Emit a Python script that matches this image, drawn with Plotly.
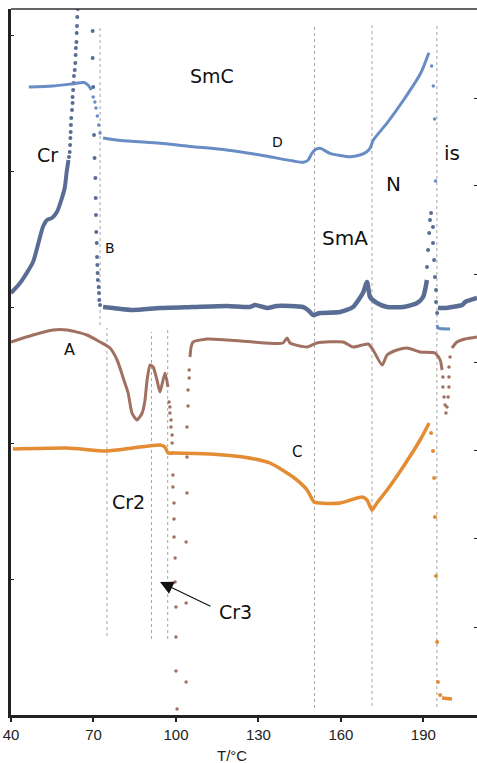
import plotly.graph_objects as go

# ---- data (T in °C, signal in arbitrary units) ----
# Curve D (light blue)
D1_T = [46.5, 55.0, 62.0, 66.6, 68.0, 69.3]
D1_y = [628, 629, 631, 632.5, 630, 625]
D_dots1_T = [69.9, 70.5, 70.9, 71.4, 71.9, 72.4]
D_dots1_y = [618, 613, 607, 599, 590, 582]
D2_T = [73.5, 80.0, 94.2, 106.3, 118.4, 130.6, 142.7, 146.3, 148.1, 149.3, 150.5, 152.4,
        156.0, 163.3, 166.9, 169.4, 170.6, 171.8, 176.7, 182.8, 189.0, 192.0]
D2_y = [577, 574.5, 571.7, 568.3, 565, 560, 554, 552.7, 555, 561, 565, 566.7,
        561.7, 558.3, 560, 563.3, 566.7, 575, 591.7, 615, 641.7, 662.3]
D_dots2_T = [193.0, 193.6, 194.1, 194.4]
D_dots2_y = [649, 629, 596, 534]
D3_T = [195.0, 195.3, 199.7]
D3_y = [390, 387, 386]

# Curve B (slate blue)
B1_T = [40.0, 43.3, 48.0, 51.6, 53.1, 54.9, 56.7, 58.3, 59.6, 60.2, 60.9]
B1_y = [422, 432, 453, 488, 495, 497, 503, 515, 528, 542, 555]
B_dots1_T = [61.1, 61.35, 61.5, 61.6, 61.7, 61.8, 61.9, 62.2, 62.4, 62.4, 62.6, 62.8, 62.9,
             63.2, 63.4, 63.5, 63.6, 63.8, 63.9, 64.0, 64.1, 64.3,
             69.7, 69.7, 69.9, 70.2, 70.4, 70.7, 70.8, 70.9, 71.0, 71.2, 71.3, 71.4, 71.5,
             71.6, 71.9, 72.0, 72.1, 72.4]
B_dots1_y = [558, 563, 570, 577, 583, 590, 597, 605, 612, 618, 625, 632, 639,
             645, 652, 660, 667, 673, 682, 689, 698, 706,
             684, 657, 628, 580, 557, 537, 517, 500, 483, 472, 458, 450, 442,
             435, 428, 422, 415, 410]
B2_T = [73.5, 77.1, 84.4, 94.2, 106.2, 118.6, 126.9, 128.8, 133.1, 136.8, 146.2, 148.0,
        149.9, 152.4, 159.7, 164.4, 168.0, 169.5, 170.6, 173.1, 176.8, 182.6, 187.7, 189.9, 191.3]
B2_y = [408, 407, 405, 407, 408, 409, 408, 410, 407, 409, 408, 405,
        400, 402, 403, 408, 422, 433, 418, 412, 408, 408, 412, 418, 435]
B_dots2_T = [191.3, 191.7, 192.1, 192.4, 192.8, 193.5, 193.5, 193.9, 194.2, 194.6, 194.6, 195.0]
B_dots2_y = [448, 465, 482, 495, 502, 488, 472, 455, 438, 425, 413, 402]
B3_T = [195.3, 197.9, 200.4, 204.1, 205.2, 209.5]
B3_y = [407, 407, 408, 410, 413, 417]

# Curve A (brown)
A1_T = [40.0, 48.0, 55.3, 60.4, 67.6, 72.4, 76.0, 78.6, 80.7, 82.6, 84.0, 85.8, 87.7,
        88.7, 89.5, 90.6, 91.7, 93.1, 94.2, 96.0, 97.1]
A1_y = [373, 380, 385, 385, 380, 373, 367, 355, 338, 322, 302, 295, 302,
        314, 335, 350, 348, 335, 323, 342, 328]
A_dots1_T = [97.5, 97.8, 97.8, 98.2, 98.2, 98.6, 98.6, 98.6, 98.9, 98.9, 99.3, 99.3, 99.3,
             99.7, 99.7, 100.0, 100.0, 100.0, 100.4,
             103.7, 103.7, 103.7, 104.0, 104.0, 104.0, 104.4, 104.4, 104.8, 104.8]
A_dots1_y = [313, 308, 302, 295, 288, 280, 272, 262, 240, 228, 212, 196, 178,
             157, 133, 108, 78, 44, 6,
             33, 112, 173, 222, 258, 288, 309, 325, 337, 345]
A2_T = [105.1, 105.5, 106.2, 111.3, 118.6, 128.0, 138.9, 140.4, 141.5, 147.7, 151.3, 160.8,
        164.4, 169.9, 171.7, 175.0, 176.8, 180.4, 184.1, 188.8, 194.2, 196.1, 196.8]
A2_y = [358, 368, 373, 376, 375, 373, 372, 377, 372, 368, 372, 373,
        368, 371, 365, 350, 360, 365, 367, 363, 362, 355, 345]
A_dots2_T = [197.1, 197.1, 197.5, 197.9, 198.2, 198.6, 199.0, 199.3, 199.3, 199.3, 199.7]
A_dots2_y = [338, 328, 318, 310, 302, 308, 318, 328, 338, 348, 358]
A3_T = [200.4, 202.2, 205.2, 209.5]
A3_y = [367, 373, 376, 378]

# Curve C (orange)
C1_T = [40.7, 60.4, 74.9, 84.4, 94.2, 96.0, 97.1, 98.9, 112.4, 124.4, 134.2, 142.6, 147.7,
        150.2, 152.4, 159.7, 167.7, 169.5, 171.3, 173.1, 176.8, 182.6, 188.8, 192.1]
C1_y = [266, 267, 264, 267, 270, 268, 262, 262, 261, 258, 252, 238, 225,
        213, 212, 212, 218, 215, 205, 212, 225, 248, 275, 292]
C_dots_T = [192.8, 193.5, 193.9, 194.2, 194.6, 195.0, 195.3, 196.1]
C_dots_y = [282, 264, 237, 198, 139, 73, 33, 20]
C2_T = [196.8, 200.4]
C2_y = [17, 16]

# Phase-boundary guide lines: T, y start, y end
VL_T = [72.4, 74.9, 91.1, 97.0, 150.4, 171.3, 194.9]
VL_y0 = [390, 79, 76, 76, 7, 9, 8]
VL_y1 = [688, 387, 383, 387, 690, 691, 691]

# Labels
LBL_text = ["Cr", "SmC", "D", "N", "is", "B", "SmA", "A", "C", "Cr2", "Cr3"]
LBL_T = [53.1, 113.1, 136.8, 179.0, 200.4, 76.0, 161.5, 61.1, 144.0, 82.6, 121.8]
LBL_y = [560, 639, 573, 531, 562, 467, 477, 366, 263, 213, 103]
LBL_size = [19, 19, 14, 20, 20, 14, 20, 16, 15, 19, 19]

ARROW_tip = (94.2, 133)
ARROW_tail = (113.1, 108)

X_TICKS = [40, 70, 100, 130, 160, 190]
YL_TICKS = [0, 136, 272, 408, 544, 680]
YR_TICKS = [88, 177, 265, 353, 441, 530, 617]

# ---- styling ----
COL_D = "rgb(104,140,196)"
COL_B = "rgb(88,108,148)"
COL_A = "rgb(160,112,96)"
COL_C = "rgb(228,140,52)"

fig = go.Figure()

def line(x, y, col, w):
    fig.add_trace(go.Scatter(x=x, y=y, mode="lines", line=dict(color=col, width=w, shape="spline", smoothing=0.6),
                             showlegend=False, hoverinfo="skip"))

def dots(x, y, col, s):
    fig.add_trace(go.Scatter(x=x, y=y, mode="markers", marker=dict(color=col, size=s),
                             showlegend=False, hoverinfo="skip"))

line(B1_T, B1_y, COL_B, 4)
dots(B_dots1_T, B_dots1_y, COL_B, 4)
line(B2_T, B2_y, COL_B, 4.5)
dots(B_dots2_T, B_dots2_y, COL_B, 4)
line(B3_T, B3_y, COL_B, 4.5)

line(D1_T, D1_y, COL_D, 3)
dots(D_dots1_T, D_dots1_y, COL_D, 3.5)
line(D2_T, D2_y, COL_D, 3)
dots(D_dots2_T, D_dots2_y, COL_D, 3.5)
line(D3_T, D3_y, COL_D, 3)

line(A1_T, A1_y, COL_A, 3)
dots(A_dots1_T, A_dots1_y, COL_A, 3.5)
line(A2_T, A2_y, COL_A, 3)
dots(A_dots2_T, A_dots2_y, COL_A, 3.5)
line(A3_T, A3_y, COL_A, 3)

line(C1_T, C1_y, COL_C, 3.5)
dots(C_dots_T, C_dots_y, COL_C, 4)
line(C2_T, C2_y, COL_C, 3.5)

# invisible trace for right axis
fig.add_trace(go.Scatter(x=[None], y=[None], yaxis="y2", showlegend=False))

shapes = []
for t, a, b in zip(VL_T, VL_y0, VL_y1):
    shapes.append(dict(type="line", xref="x", yref="y", x0=t, x1=t, y0=a, y1=b,
                       line=dict(color="rgb(165,165,165)", width=1, dash="dot"), layer="below"))
shapes.append(dict(type="line", xref="paper", yref="paper", x0=0, x1=1, y0=1, y1=1,
                   line=dict(color="#333", width=1.5)))

annotations = []
for t, x, y, s in zip(LBL_text, LBL_T, LBL_y, LBL_size):
    annotations.append(dict(text=t, x=x, y=y, xref="x", yref="y", showarrow=False,
                            font=dict(family="DejaVu Sans", size=s, color="#111")))
annotations.append(dict(text="", x=ARROW_tip[0], y=ARROW_tip[1], ax=ARROW_tail[0], ay=ARROW_tail[1],
                        xref="x", yref="y", axref="x", ayref="y", showarrow=True,
                        arrowhead=2, arrowsize=2.2, arrowwidth=1.2, arrowcolor="#111"))
annotations.append(dict(text="T/°C", x=(232 - 11) / 466, y=-(755 - 715) / 706,
                        xref="paper", yref="paper", showarrow=False,
                        xanchor="center", yanchor="middle",
                        font=dict(family="Liberation Sans", size=15, color="#222")))

fig.update_layout(
    width=477, height=763,
    margin=dict(l=11, r=0, t=9, b=48),
    paper_bgcolor="white", plot_bgcolor="white",
    shapes=shapes, annotations=annotations,
    xaxis=dict(range=[40, 209.5], tickvals=X_TICKS, showgrid=False, zeroline=False,
               showline=True, linecolor="#222", linewidth=2.5, ticks="outside", ticklen=4,
               tickwidth=1.5, tickcolor="#222",
               tickfont=dict(family="Liberation Sans", size=15, color="#222")),
    yaxis=dict(range=[0, 706], tickvals=YL_TICKS, showgrid=False, zeroline=False,
               showline=True, linecolor="#222", linewidth=2.5, ticks="inside", ticklen=3,
               tickwidth=1.2, tickcolor="#222", showticklabels=False),
    yaxis2=dict(range=[0, 706], tickvals=YR_TICKS, overlaying="y", side="right",
                showgrid=False, zeroline=False, showline=False, ticks="inside", ticklen=3,
                tickwidth=1.2, tickcolor="#222", showticklabels=False),
)

fig.write_html("out.html", config={"displayModeBar": False},
               post_script="document.body.style.margin='0';document.body.style.overflow='hidden';")
